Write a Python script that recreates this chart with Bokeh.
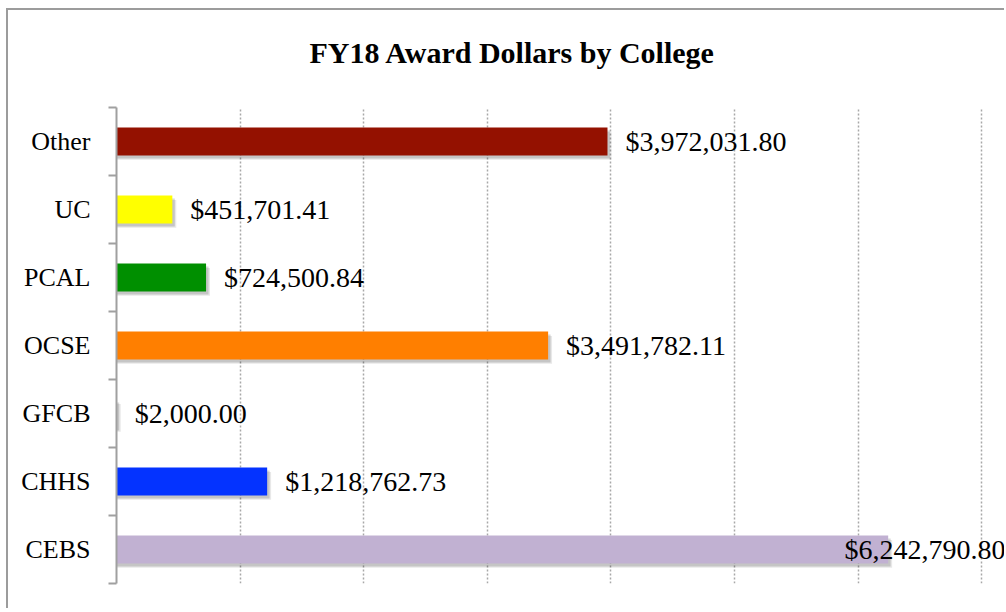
import numpy as np
from bokeh.plotting import figure
from bokeh.models import (ColumnDataSource, Range1d, FixedTicker, Title)
from bokeh.transform import dodge
from bokeh.embed import file_html
from bokeh.resources import INLINE

# ---- data (bottom to top) ----
colleges = ["CEBS", "CHHS", "GFCB", "OCSE", "PCAL", "UC", "Other"]
awards = [6242790.80, 1218762.73, 2000.00, 3491782.11, 724500.84, 451701.41, 3972031.80]
bar_colors = ["#C1B1D2", "#0433FF", "#0433FF", "#FF7F00", "#008F00", "#FFFF00", "#941100"]
title_text = "FY18 Award Dollars by College"

FONT = "Liberation Serif"
XMAX = 7.2e6

ypos = np.arange(len(colleges)) + 0.5
labels = ["${:,.2f}".format(v) for v in awards]
inside = [v > 0.8 * XMAX for v in awards]
lab_x = [XMAX if ins else v for v, ins in zip(awards, inside)]
lab_align = ["right" if ins else "left" for ins in inside]
lab_off = [-1 if ins else 18 for ins in inside]

src = ColumnDataSource(dict(y=ypos, val=awards, color=bar_colors, label=labels,
                            lx=lab_x, align=lab_align, off=lab_off))

p = figure(width=998, height=600, output_backend="svg", toolbar_location=None,
           x_range=Range1d(0, XMAX), y_range=Range1d(0, len(colleges)),
           min_border_left=108, min_border_right=0, min_border_top=97, min_border_bottom=27)
p.styles = {"border-left": "2px solid #9C9C9C", "border-top": "2px solid #9C9C9C",
            "margin-left": "6px", "margin-top": "8px"}
p.outline_line_color = None
p.background_fill_color = "white"
p.border_fill_color = "white"

# shadows
p.hbar(y=dodge("y", -0.065), left=0, right=dodge("val", 32000), height=0.41, source=src,
       fill_color="#000000", fill_alpha=0.09, line_color=None)
p.hbar(y=dodge("y", -0.045), left=0, right=dodge("val", 20000), height=0.41, source=src,
       fill_color="#000000", fill_alpha=0.15, line_color=None)
# bars
p.hbar(y="y", left=0, right="val", height=0.41, source=src,
       fill_color="color", line_color=None)

# value labels
p.text(x="lx", y="y", text="label", source=src, x_offset="off",
       text_align="align", text_baseline="middle",
       text_font={"value": FONT}, text_font_size="28px", text_color="black")

# axes
p.xaxis.visible = False
p.xgrid.ticker = FixedTicker(ticks=list(np.arange(1e6, XMAX, 1e6)))
p.xgrid.grid_line_color = "#A8A8A8"
p.xgrid.grid_line_dash = "2 2"
p.xgrid.grid_line_width = 1.5
p.ygrid.visible = False

ya = p.yaxis[0]
ya.ticker = FixedTicker(ticks=list(ypos), minor_ticks=list(np.arange(0, len(colleges) + 1)))
ya.major_label_overrides = {float(y): c for y, c in zip(ypos, colleges)}
ya.major_tick_out = 0
ya.major_tick_in = 0
ya.minor_tick_out = 8
ya.minor_tick_in = 0
ya.minor_tick_line_color = "#A0A0A0"
ya.minor_tick_line_width = 2
ya.axis_line_color = "#A0A0A0"
ya.axis_line_width = 2
ya.major_label_standoff = 18
ya.major_label_text_font = FONT
ya.major_label_text_font_size = "26px"
ya.major_label_text_color = "black"

# spacer (closest to the frame) then the main title above it
p.add_layout(Title(text=" ", text_font_size="10px", standoff=26), "above")
p.add_layout(Title(text=title_text, align="left", offset=193, standoff=0,
                   text_font=FONT, text_font_style="bold", text_font_size="30px",
                   text_color="black"), "above")

open("out.html", "w").write(file_html(p, INLINE))
